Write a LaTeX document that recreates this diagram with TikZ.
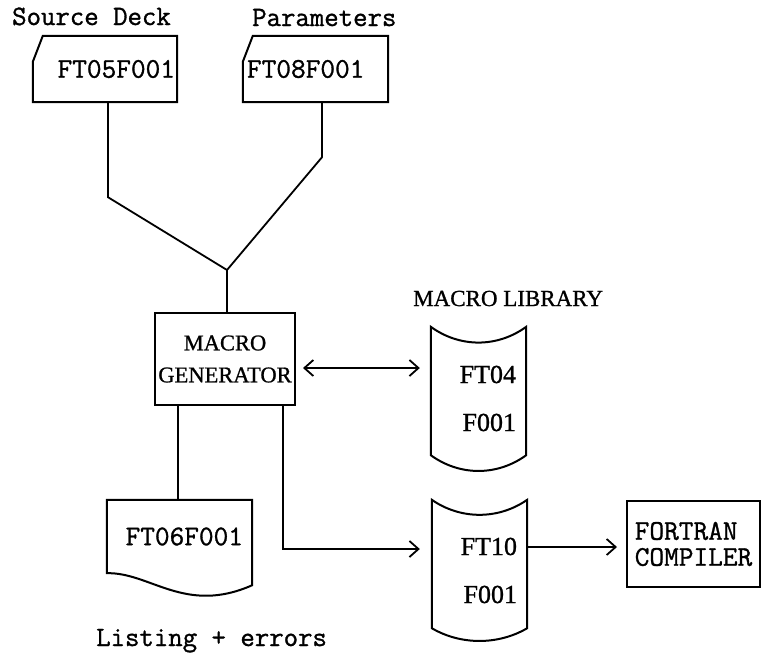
\documentclass[tikz,border=0pt]{standalone}
\usepackage{fontspec}
\setmainfont{Liberation Serif}[FakeBold=0.9]
\setmonofont{Latin Modern Mono}[FakeBold=1.1]
\usetikzlibrary{arrows.meta}
\begin{document}
\begin{tikzpicture}[x=1pt,y=-1pt,
  boxline/.style={draw, line width=2pt, line join=miter},
  holder/.style={inner ysep=0pt},
  wire/.style={line width=1.8pt},
  arrowend/.style={-{Straight Barb[length=9pt,width=16pt]}},
  biarrow/.style={{Straight Barb[length=9pt,width=16pt]}-{Straight Barb[length=9pt,width=16pt]}},
  typelbl/.style={inner sep=0pt, font=\ttfamily\fontsize{28}{30}\selectfont},
  cardfont/.style={font=\ttfamily\fontsize{28.5}{26}\selectfont},
  drumfont/.style={font=\fontsize{26}{48}\selectfont}
]
\fill[white] (0,0) rectangle (762,657);
\useasboundingbox (0,0) rectangle (762,657);

% input cards
\node[holder, cardfont, minimum width=144pt, minimum height=66pt,
      text width=140pt, inner xsep=2pt, align=right] (src) at (105,69) {FT05F001};
\node[holder, cardfont, minimum width=145pt, minimum height=66pt,
      text width=137pt, inner xsep=4pt, align=left] (par) at (315.5,69) {FT08F001};
\draw[boxline] ([yshift=-26pt]src.north west) -- ([xshift=10pt]src.north west)
  -- (src.north east) -- (src.south east) -- (src.south west) -- cycle;
\draw[boxline] ([yshift=-26pt]par.north west) -- ([xshift=10pt]par.north west)
  -- (par.north east) -- (par.south east) -- (par.south west) -- cycle;
\node[typelbl, anchor=base west] (srclbl) at (12,25) {Source Deck};
\node[typelbl, anchor=base west] (parlbl) at (252,26) {Parameters};

% generator
\node[boxline, inner sep=0pt, minimum width=140pt, minimum height=92pt, align=center,
      font=\fontsize{22.5}{32}\selectfont] (gen) at (225,359) {MACRO\\GENERATOR};

% macro library drum
\node[holder, drumfont, minimum width=95pt, minimum height=143pt,
      text width=75pt, inner xsep=10pt, align=right] (lib) at (478.5,398.5) {FT04\\F001};
\draw[boxline] (lib.north west)
  .. controls ([xshift=29pt,yshift=-21pt]lib.north west) and ([xshift=-29pt,yshift=-21pt]lib.north east) .. (lib.north east)
  -- ([yshift=15pt]lib.south east)
  .. controls ([xshift=-29pt,yshift=-6pt]lib.south east) and ([xshift=29pt,yshift=-6pt]lib.south west) .. ([yshift=15pt]lib.south west)
  -- cycle;
\node[inner sep=0pt, anchor=base west, font=\fontsize{23}{25}\selectfont] (liblbl) at (413,306) {MACRO LIBRARY};

% generated source drum
\node[holder, drumfont, minimum width=95pt, minimum height=141pt,
      text width=75pt, inner xsep=10pt, align=right] (tape) at (479.5,570.5) {FT10\\F001};
\draw[boxline] (tape.north west)
  .. controls ([xshift=29pt,yshift=-20pt]tape.north west) and ([xshift=-29pt,yshift=-20pt]tape.north east) .. (tape.north east)
  -- ([yshift=13pt]tape.south east)
  .. controls ([xshift=-29pt,yshift=-4pt]tape.south east) and ([xshift=29pt,yshift=-4pt]tape.south west) .. ([yshift=13pt]tape.south west)
  -- cycle;

% listing document
\node[holder, cardfont, minimum width=145pt, minimum height=73pt,
      text width=127pt, inner xsep=9pt, align=right] (doc) at (179.5,536.5) {FT06F001};
\draw[boxline] (doc.north west) -- (doc.north east) -- ([yshift=-12pt]doc.south east)
  .. controls (185,615) and (150,572) .. (doc.south west) -- cycle;
\node[typelbl, anchor=base west] (lstlbl) at (96,646) {Listing + errors};

% compiler
\node[boxline, inner sep=0pt, cardfont, minimum width=133pt, minimum height=86pt,
      align=left] (ftn) at (693.5,544) {FORTRAN\\COMPILER};

% connectors
\coordinate (join) at (227,270);
\draw[wire] ([xshift=3pt]src.south) -- ++(0,95) -- (join);
\draw[wire] ([xshift=6.5pt]par.south) -- ++(0,55) -- (join);
\draw[wire] (join) -- (join |- gen.north);
\coordinate (gdoc) at ([xshift=-1.5pt]doc.north);
\draw[wire] (gdoc |- gen.south) -- (gdoc);
\coordinate (gout) at ([xshift=58pt]gen.south);
\draw[wire, arrowend, shorten >=12pt] (gout) |- ([yshift=21.5pt]tape.west);
\coordinate (glib) at ([yshift=-9pt]gen.east);
\draw[wire, biarrow, shorten <=7pt, shorten >=11pt] (glib) -- (glib -| lib.west);
\coordinate (tout) at ([yshift=23.5pt]tape.east);
\draw[wire, arrowend, shorten >=9pt] (tout) -- (tout -| ftn.west);
\end{tikzpicture}
\end{document}
